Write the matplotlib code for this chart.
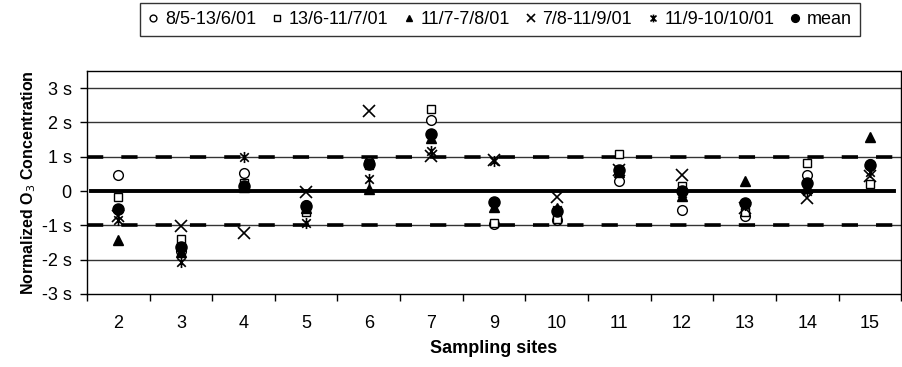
import numpy as np
import matplotlib.pyplot as plt
from matplotlib.path import Path

plt.rcParams['font.family'] = ['Liberation Sans', 'DejaVu Sans']

## the data
sites = ['2', '3', '4', '5', '6', '7', '9', '10', '11', '12', '13', '14', '15']
p1 = [0.46, -1.75, 0.53, -0.40, 0.84, 2.08, -0.95, -0.83, 0.30, -0.54, -0.73, 0.48, 0.80]
p2 = [-0.18, -1.40, 0.24, -0.62, 0.75, 2.38, -0.93, -0.80, 1.09, 0.14, -0.60, 0.82, 0.21]
p3 = [-1.42, -1.78, 0.12, -0.50, 0.05, 1.56, -0.46, -0.49, 0.55, -0.15, 0.30, 0.10, 1.58]
p4 = [-0.72, -1.02, -1.22, -0.03, 2.33, 1.03, 0.92, -0.16, 0.60, 0.48, -0.50, -0.20, 0.45]
p5 = [-0.85, -2.06, 1.00, -0.92, 0.36, 1.16, 0.88, -0.55, 0.55, -0.05, -0.40, 0.00, 0.55]
mean = [-0.52, -1.63, 0.14, -0.44, 0.79, 1.65, -0.31, -0.59, 0.60, 0.00, -0.35, 0.24, 0.77]
labels = ['8/5-13/6/01', '13/6-11/7/01', '11/7-7/8/01', '7/8-11/9/01', '11/9-10/10/01', 'mean']
yticks = [-3, -2, -1, 0, 1, 2, 3]
yticklabels = ['-3 s', '-2 s', '-1 s', '0', '1 s', '2 s', '3 s']

# asterisk marker: x plus a vertical bar
ast = Path([(-1, -1), (1, 1), (-1, 1), (1, -1), (0, -1.3), (0, 1.3)],
           [Path.MOVETO, Path.LINETO, Path.MOVETO, Path.LINETO, Path.MOVETO, Path.LINETO])

fig = plt.figure(figsize=(9.03, 3.67), dpi=100)
ax = fig.add_axes([0.0963, 0.199, 0.9017, 0.6075])

x = np.arange(len(sites))

# reference lines
for v in [-2, 2, 3]:
    ax.axhline(v, color='#333333', lw=1, zorder=1)
for v in [-1, 1]:
    ax.axhline(v, color='#333333', lw=1, zorder=1)
    ax.axhline(v, color='black', lw=2.6, ls=(0, (4.5, 5)), zorder=1)
ax.plot([-0.44, 12.38], [0, 0], color='black', lw=2.8, zorder=1)

h1, = ax.plot(x, p1, 'o', ms=7, mfc='white', mec='black', mew=1, ls='none', zorder=3)
h2, = ax.plot(x, p2, 's', ms=5.5, mfc='white', mec='black', mew=1, ls='none', zorder=3)
h3, = ax.plot(x, p3, '^', ms=6.5, color='black', ls='none', zorder=3)
h4, = ax.plot(x, p4, 'x', ms=8, color='black', mew=1.2, ls='none', zorder=3)
h5, = ax.plot(x, p5, marker=ast, ms=8, color='black', mew=1.2, ls='none', zorder=3)
h6, = ax.plot(x, mean, 'o', ms=8, color='black', ls='none', zorder=4)

ax.set_xlim(-0.5, 12.5)
ax.set_ylim(-3, 3.5)
ax.set_xticks(x)
ax.set_xticklabels(sites, fontsize=13)
ax.set_xticks(np.arange(-0.5, 12.6, 1), minor=True)
ax.tick_params(axis='x', which='major', length=0, pad=15)
ax.tick_params(axis='x', which='minor', length=5, direction='out', width=1)
ax.set_yticks(yticks)
ax.set_yticklabels(yticklabels, fontsize=13)
ax.tick_params(axis='y', length=5, direction='out', width=1, pad=6)
for s in ax.spines.values():
    s.set_linewidth(1)

ax.set_xlabel('Sampling sites', fontsize=13, fontweight='bold', labelpad=6)
ax.set_ylabel('Normalized O$_3$ Concentration', fontsize=11.5, fontweight='bold', labelpad=3)

leg = fig.legend([h1, h2, h3, h4, h5, h6], labels, loc='upper center',
                 bbox_to_anchor=(0.554, 0.992), ncol=6, fontsize=13, frameon=True,
                 fancybox=False, edgecolor='black', handlelength=0.5, handletextpad=0.4,
                 columnspacing=0.9, borderpad=0.45, markerscale=0.7, borderaxespad=0)
leg.get_frame().set_linewidth(1)

fig.savefig('out.png', dpi=100)
